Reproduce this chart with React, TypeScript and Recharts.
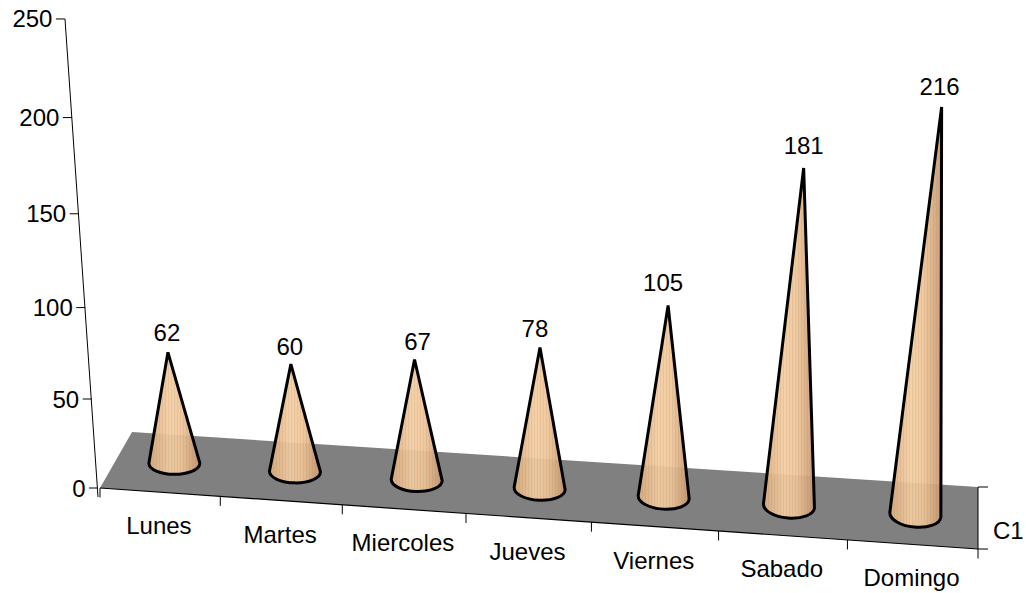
import React from "react";
import { ComposedChart, Bar, XAxis, YAxis, LabelList, Customized } from "recharts";

const categories = ["Lunes", "Martes", "Miercoles", "Jueves", "Viernes", "Sabado", "Domingo"];
const values = [62, 60, 67, 78, 105, 181, 216];
const valueTicks = [0, 50, 100, 150, 200, 250];
const depthLabel = "C1";
const rows = categories.map((day, i) => ({ day, value: values[i] }));

const W = 1026, H = 593;
const LEFT = 100, RIGHT = 978, TOP = 18, BASE = 488;
const FONT = "'Liberation Sans', Arial, sans-serif";
const FS = 24;

// Oblique view: maps plot coordinates onto the tilted floor and walls.
const uOf = (x: number) => (x - LEFT) / (RIGHT - LEFT);
const frontX = (x: number) => { const u = uOf(x); return x - 42 * u * (1 - u); };
const frontY = (sx: number) => BASE + (sx - LEFT) * 0.0695;
const midX = (x: number) => { const u = uOf(x); return frontX(x) + 13.5 * (1 - u * u) + 1; };
const rise = (h: number, u: number) => h * (0.934 + 0.000136 * h + 0.016 * u);
const lean = (r: number, sx: number) => r * (sx - 525) * 0.000165;

function Cone(props: any) {
  const { x, width, height } = props;
  const cx = x + width / 2;
  const u = uOf(cx);
  const bx = midX(cx);
  const by = frontY(bx) - 30;
  const r = rise(height, u);
  const ax = bx + lean(r, bx);
  const ay = by - r;
  const rx = 25.5;
  const ry = 11 + u * 1.5;
  const tilt = (bx - 174) * 0.00013;
  const lx = bx - rx, ly = by - rx * tilt;
  const rxp = bx + rx, ryp = by + rx * tilt;
  const rot = (Math.atan(tilt) * 180) / Math.PI;
  const d = `M${ax},${ay} L${lx},${ly} A${rx},${ry} ${rot} 0 0 ${rxp},${ryp} Z`;
  return (
    <g>
      <path d={d} fill="url(#coneShade)" fillOpacity={0.92} stroke="none" />
      <path d={d} fill="url(#coneGrain)" stroke="none" />
      <path d={d} fill="none" stroke="#000" strokeWidth={3} strokeLinejoin="bevel" />
    </g>
  );
}

function Floor() {
  const ticks = categories.map((_, i) => LEFT + ((RIGHT - LEFT) * i) / categories.length).concat(RIGHT);
  const frontRight = frontY(RIGHT);
  return (
    <g>
      <polygon points={`${LEFT},${BASE} 132,432 ${RIGHT},${BASE - 1} ${RIGHT},${frontRight}`} fill="#808080" />
      <line x1={LEFT} y1={BASE} x2={RIGHT} y2={frontRight} stroke="#000" strokeWidth={1.2} />
      {ticks.map((t, i) => {
        const sx = frontX(t);
        const sy = frontY(sx);
        return <line key={i} x1={sx} y1={sy} x2={sx} y2={sy + 9.5} stroke="#000" strokeWidth={1} />;
      })}
      <line x1={RIGHT} y1={BASE - 1} x2={RIGHT} y2={frontRight} stroke="#000" strokeWidth={1} />
      <line x1={RIGHT} y1={BASE - 1} x2={RIGHT + 10} y2={BASE - 1} stroke="#000" strokeWidth={1} />
      <line x1={RIGHT} y1={frontRight} x2={RIGHT + 10} y2={frontRight} stroke="#000" strokeWidth={1} />
      <text x={993} y={530} fontFamily={FONT} fontSize={FS} dominantBaseline="central" fill="#000">{depthLabel}</text>
      <line x1={98} y1={497} x2={65} y2={19} stroke="#000" strokeWidth={1} />
    </g>
  );
}

function ValueTick(props: any) {
  const { y, payload } = props;
  const h = BASE - y;
  const r = rise(h, 0);
  const sx = 98 + lean(r, 98);
  const sy = BASE - r;
  return (
    <g>
      <line x1={sx - 9} y1={sy} x2={sx} y2={sy} stroke="#000" strokeWidth={1} />
      <text x={sx - 12.5} y={sy} textAnchor="end" dominantBaseline="central" fontFamily={FONT} fontSize={FS} fill="#000">
        {payload.value}
      </text>
    </g>
  );
}

function CategoryTick(props: any) {
  const { x, payload } = props;
  const sx = frontX(x);
  return (
    <text x={sx - 1} y={frontY(sx) + 33.5} textAnchor="middle" dominantBaseline="central" fontFamily={FONT} fontSize={FS} fill="#000">
      {payload.value}
    </text>
  );
}

const labelNudgeX = [0, 0, 4, -4, -4, 1, -1];
const labelNudgeY = [1, 3, 3, 2, -2, -2, 1];

function ConeLabel(props: any) {
  const { x, width, height, value, index } = props;
  const cx = x + width / 2;
  const bx = midX(cx);
  const r = rise(height, uOf(cx));
  return (
    <text
      x={bx + lean(r, bx) - 1 + labelNudgeX[index]}
      y={frontY(bx) - 30 - r - 21 + labelNudgeY[index]}
      textAnchor="middle"
      dominantBaseline="central"
      fontFamily={FONT}
      fontSize={FS}
      fill="#000"
    >
      {value}
    </text>
  );
}

export default function App() {
  return (
    <div style={{ position: "absolute", left: 0, top: 0, width: W, height: H, background: "#fff" }}>
      <ComposedChart
        width={W}
        height={H}
        data={rows}
        margin={{ left: LEFT - 1, right: W - RIGHT, top: TOP, bottom: H - BASE - 1 }}
        barCategoryGap="58%"
      >
        <defs>
          <linearGradient id="coneShade" x1="0" y1="0" x2="1" y2="0">
            <stop offset="0" stopColor="#dcab7c" />
            <stop offset="0.4" stopColor="#f6cd9f" />
            <stop offset="0.65" stopColor="#f1c596" />
            <stop offset="1" stopColor="#c8966a" />
          </linearGradient>
          <pattern id="coneGrain" width="3" height="8" patternUnits="userSpaceOnUse">
            <rect x="0" y="0" width="1" height="8" fill="#8a8a8a" fillOpacity="0.16" />
          </pattern>
        </defs>
        <Customized component={Floor} />
        <XAxis dataKey="day" height={1} axisLine={false} tickLine={false} interval={0} tick={CategoryTick} />
        <YAxis domain={[0, 250]} ticks={valueTicks} width={1} axisLine={false} tickLine={false} interval={0} tick={ValueTick} />
        <Bar dataKey="value" shape={Cone} isAnimationActive={false}>
          <LabelList dataKey="value" content={ConeLabel} />
        </Bar>
      </ComposedChart>
    </div>
  );
}
